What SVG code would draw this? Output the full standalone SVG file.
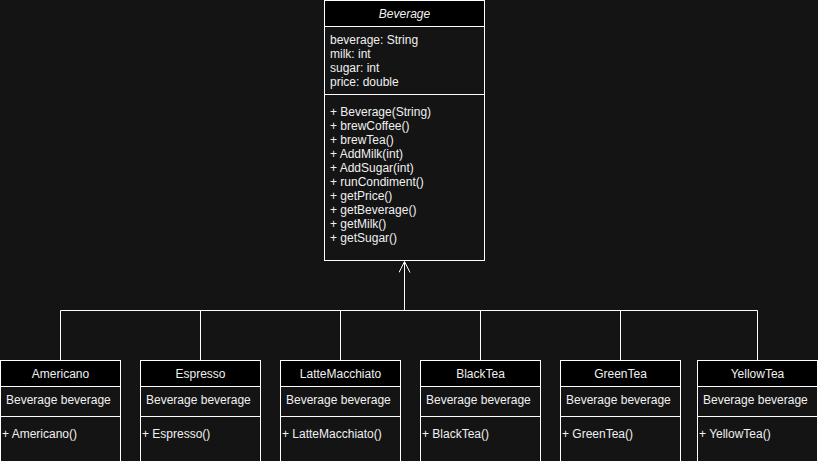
<svg xmlns="http://www.w3.org/2000/svg" width="818" height="461" viewBox="0 0 818 461">
  <defs>
    <!-- open generalization arrowhead, drawn along +x so orient="auto" points it at the parent -->
    <marker id="inherit" viewBox="0 0 12 12" refX="11" refY="6" markerWidth="12" markerHeight="12" markerUnits="userSpaceOnUse" orient="auto">
      <path d="M0,0.5 L11,6 L0,11.5" fill="none" stroke="#ffffff" stroke-width="1"/>
    </marker>
  </defs>
  <style>
    text { font-family: "Liberation Sans", Arial, Helvetica, sans-serif; font-size: 12px; fill: #f0f0f0; }
    .title { text-anchor: middle; }
    .abstract { font-style: italic; }
    .box { fill: #141414; stroke: #ffffff; stroke-width: 1; }
    .head { fill: #000000; stroke: #ffffff; stroke-width: 1; }
    .sep { stroke: #ffffff; stroke-width: 1; fill: none; }
    .edge { fill: none; stroke: #ffffff; stroke-width: 1; }
  </style>

  <rect x="0" y="0" width="818" height="461" fill="#141414"/>

  <!-- connectors: generalization tree -->
  <g id="connectors">
    <path class="edge" d="M404.5,310.5 L404.5,261.5" marker-end="url(#inherit)"/>
    <path class="edge" d="M60.5,360 L60.5,310.5 L757.5,310.5 L757.5,360"/>
    <path class="edge" d="M200.5,360 L200.5,310.5"/>
    <path class="edge" d="M340.5,360 L340.5,310.5"/>
    <path class="edge" d="M480.5,360 L480.5,310.5"/>
    <path class="edge" d="M620.5,360 L620.5,310.5"/>
  </g>

  <!-- abstract base class -->
  <g id="Beverage">
    <rect class="box" x="324.5" y="0.5" width="160" height="260"/>
    <rect class="head" x="324.5" y="0.5" width="160" height="26"/>
    <line class="sep" x1="324.5" y1="94.5" x2="484.5" y2="94.5"/>
    <text class="title abstract" x="404.5" y="17.5">Beverage</text>
    <text x="330" y="44">beverage: String</text>
    <text x="330" y="58">milk: int</text>
    <text x="330" y="72">sugar: int</text>
    <text x="330" y="86">price: double</text>
    <text x="330" y="116">+ Beverage(String)</text>
    <text x="330" y="130">+ brewCoffee()</text>
    <text x="330" y="144">+ brewTea()</text>
    <text x="330" y="158">+ AddMilk(int)</text>
    <text x="330" y="172">+ AddSugar(int)</text>
    <text x="330" y="186">+ runCondiment()</text>
    <text x="330" y="200">+ getPrice()</text>
    <text x="330" y="214">+ getBeverage()</text>
    <text x="330" y="228">+ getMilk()</text>
    <text x="330" y="242">+ getSugar()</text>
  </g>

  <!-- concrete subclasses -->
  <g id="Americano">
    <rect class="box" x="0.5" y="360.5" width="120" height="110"/>
    <rect class="head" x="0.5" y="360.5" width="120" height="26"/>
    <line class="sep" x1="0.5" y1="416.5" x2="120.5" y2="416.5"/>
    <text class="title" x="60.5" y="378">Americano</text>
    <text x="6" y="404">Beverage beverage</text>
    <text x="2" y="438">+ Americano()</text>
  </g>

  <g id="Espresso">
    <rect class="box" x="140.5" y="360.5" width="120" height="110"/>
    <rect class="head" x="140.5" y="360.5" width="120" height="26"/>
    <line class="sep" x1="140.5" y1="416.5" x2="260.5" y2="416.5"/>
    <text class="title" x="200.5" y="378">Espresso</text>
    <text x="146" y="404">Beverage beverage</text>
    <text x="142" y="438">+ Espresso()</text>
  </g>

  <g id="LatteMacchiato">
    <rect class="box" x="280.5" y="360.5" width="120" height="110"/>
    <rect class="head" x="280.5" y="360.5" width="120" height="26"/>
    <line class="sep" x1="280.5" y1="416.5" x2="400.5" y2="416.5"/>
    <text class="title" x="340.5" y="378">LatteMacchiato</text>
    <text x="286" y="404">Beverage beverage</text>
    <text x="282" y="438">+ LatteMacchiato()</text>
  </g>

  <g id="BlackTea">
    <rect class="box" x="420.5" y="360.5" width="120" height="110"/>
    <rect class="head" x="420.5" y="360.5" width="120" height="26"/>
    <line class="sep" x1="420.5" y1="416.5" x2="540.5" y2="416.5"/>
    <text class="title" x="480.5" y="378">BlackTea</text>
    <text x="426" y="404">Beverage beverage</text>
    <text x="422" y="438">+ BlackTea()</text>
  </g>

  <g id="GreenTea">
    <rect class="box" x="560.5" y="360.5" width="120" height="110"/>
    <rect class="head" x="560.5" y="360.5" width="120" height="26"/>
    <line class="sep" x1="560.5" y1="416.5" x2="680.5" y2="416.5"/>
    <text class="title" x="620.5" y="378">GreenTea</text>
    <text x="566" y="404">Beverage beverage</text>
    <text x="562" y="438">+ GreenTea()</text>
  </g>

  <g id="YellowTea">
    <rect class="box" x="697.5" y="360.5" width="120" height="110"/>
    <rect class="head" x="697.5" y="360.5" width="120" height="26"/>
    <line class="sep" x1="697.5" y1="416.5" x2="817.5" y2="416.5"/>
    <text class="title" x="757.5" y="378">YellowTea</text>
    <text x="703" y="404">Beverage beverage</text>
    <text x="699" y="438">+ YellowTea()</text>
  </g>
</svg>
